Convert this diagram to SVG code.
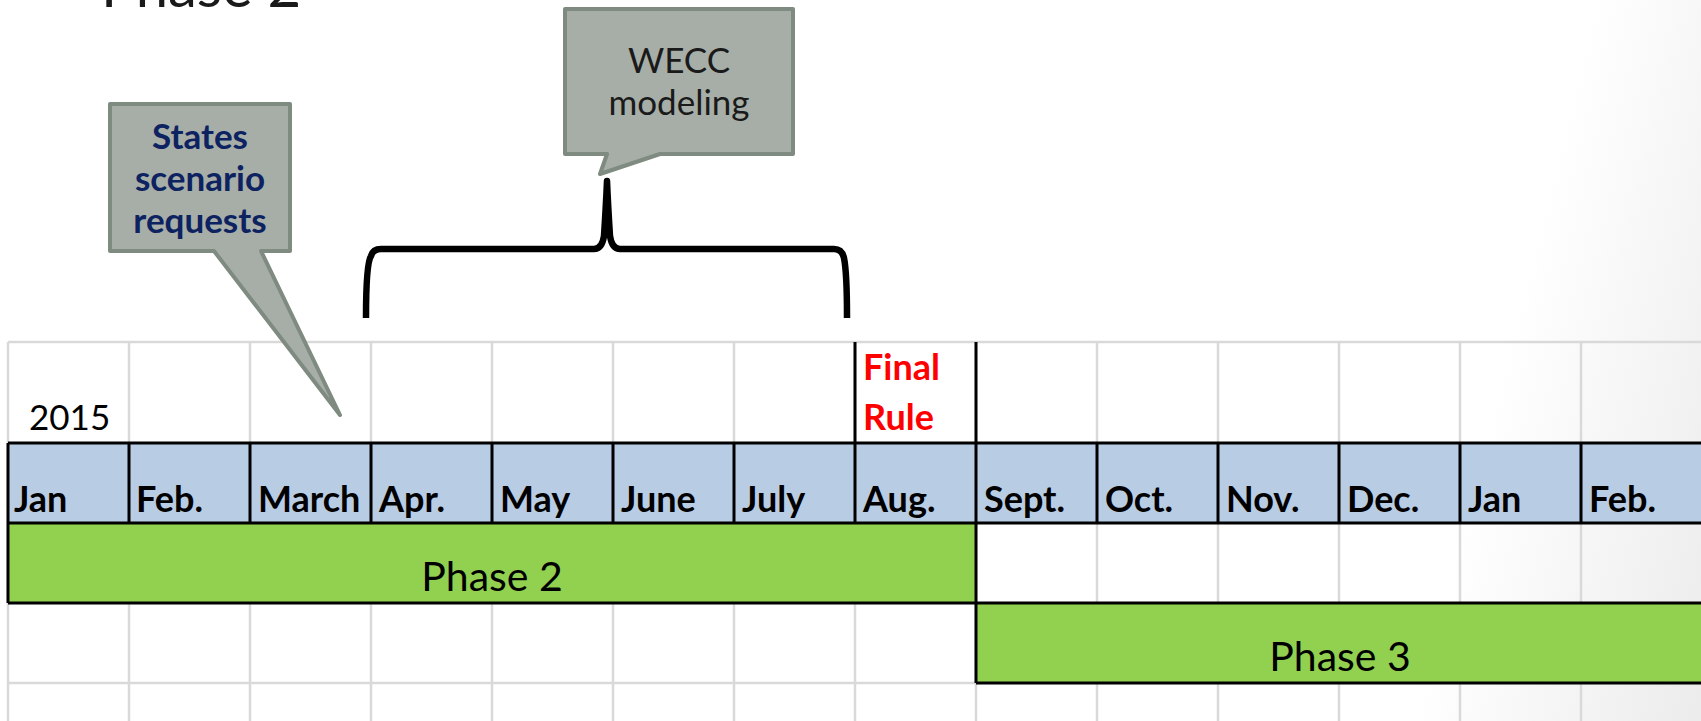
<svg xmlns="http://www.w3.org/2000/svg" width="1701" height="721" viewBox="0 0 1701 721">
<defs>
<linearGradient id="shade" gradientUnits="userSpaceOnUse" x1="1590" y1="0" x2="1854" y2="66">
<stop offset="0" stop-color="#ffffff"/>
<stop offset="1" stop-color="#ececec"/>
</linearGradient>
<style>
.grid{stroke:#d9d9d9;stroke-width:2.5;fill:none}
.blk{stroke:#000;stroke-width:3;fill:none}
.mon{font-family:Lato,"Open Sans","Liberation Sans",sans-serif;font-weight:bold;font-size:36px;fill:#000}
.red{fill:#ff0000}
.reg{font-family:Lato,"Open Sans","Liberation Sans",sans-serif;fill:#000}
.call{fill:#a6aea7;stroke:#7f8a81;stroke-width:4;stroke-linejoin:round}
.ctxt{font-family:Lato,"Open Sans","Liberation Sans",sans-serif;font-size:35px;text-anchor:middle}
.navy{fill:#0d2260;font-weight:bold}
.dark{fill:#1a1a1a}
</style>
</defs>
<rect width="1701" height="721" fill="#fff"/>
<rect width="1701" height="721" fill="url(#shade)"/>
<text class="reg dark" x="101" y="7" font-size="58">Phase 2</text>

<g id="grid">
<path class="grid" d="M8,342H1701M8,683H976M8,342V721M129,342V721M250,342V721M371,342V721M492,342V721M613,342V721M734,342V721M855,342V721M976,342V721M1097,342V721M1218,342V721M1339,342V721M1460,342V721M1581,342V721"/>
<rect x="8" y="443" width="1693" height="80" fill="#b8cce4"/>
<rect x="8" y="523" width="968" height="80" fill="#92d050"/>
<rect x="976" y="603" width="725" height="80" fill="#92d050"/>
<path class="blk" d="M8,443H1701M8,523H1701M8,603H1701M976,683H1701M8,443V603M129,443V523M250,443V523M371,443V523M492,443V523M613,443V523M734,443V523M855,342V523M976,342V683M1097,443V523M1218,443V523M1339,443V523M1460,443V523M1581,443V523"/>
</g>

<g id="labels">
<text class="reg" x="29" y="430" font-size="35">2015</text>
<text class="mon red" x="863" y="380">Final</text>
<text class="mon red" x="863" y="430">Rule</text>
<text class="mon" x="14" y="512">Jan</text>
<text class="mon" x="136" y="512">Feb.</text>
<text class="mon" x="258" y="512">March</text>
<text class="mon" x="379" y="512">Apr.</text>
<text class="mon" x="500" y="512">May</text>
<text class="mon" x="621" y="512">June</text>
<text class="mon" x="742" y="512">July</text>
<text class="mon" x="863" y="512">Aug.</text>
<text class="mon" x="984" y="512">Sept.</text>
<text class="mon" x="1105" y="512">Oct.</text>
<text class="mon" x="1226" y="512">Nov.</text>
<text class="mon" x="1347" y="512">Dec.</text>
<text class="mon" x="1468" y="512">Jan</text>
<text class="mon" x="1589" y="512">Feb.</text>
</g>

<g id="phase2">
<text class="reg" x="492" y="591" font-size="41" text-anchor="middle">Phase 2</text>
</g>
<g id="phase3">
<text class="reg" x="1340" y="671" font-size="41" text-anchor="middle">Phase 3</text>
</g>

<g id="connectors">
<path d="M366,318C366,290 367,262 371,256Q373,249 381,249H594Q602,249 604,236Q606,205 607,181Q608,205 610,236Q612,249 620,249H834Q842,249 844,258C846,268 847,292 847,318" fill="none" stroke="#000" stroke-width="6.5" stroke-linejoin="round"/>
</g>

<g id="states-callout">
<path class="call" d="M110,104H290V251H261L340,415L214,251H110Z"/>
<text class="ctxt navy" x="200" y="149">States</text>
<text class="ctxt navy" x="200" y="191">scenario</text>
<text class="ctxt navy" x="200" y="233">requests</text>
</g>

<g id="wecc-callout">
<path class="call" d="M565,9H793V154H660L600,174L607,154H565Z"/>
<text class="ctxt dark" x="679" y="73">WECC</text>
<text class="ctxt dark" x="679" y="115">modeling</text>
</g>
</svg>
